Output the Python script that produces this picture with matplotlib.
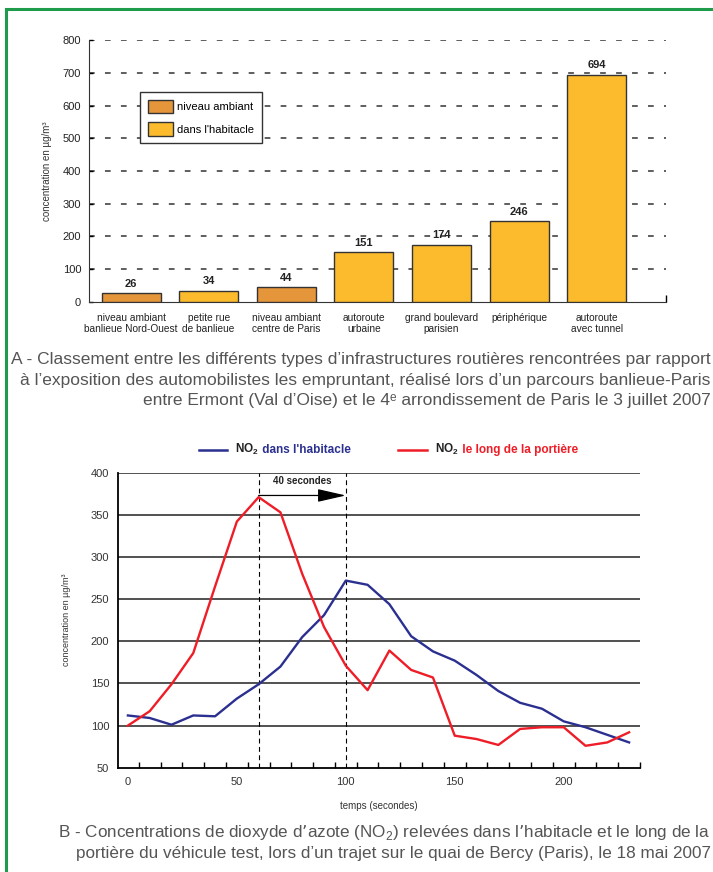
import matplotlib
matplotlib.use('Agg')
import matplotlib.pyplot as plt
from matplotlib import font_manager
from matplotlib.patches import Patch, Rectangle
from matplotlib.lines import Line2D

# --- data ---------------------------------------------------------------
categories = ['niveau ambiant\nbanlieue Nord-Ouest', 'petite rue\nde banlieue',
              'niveau ambiant\ncentre de Paris', 'autoroute\nurbaine',
              'grand boulevard\nparisien', 'périphérique', 'autoroute\navec tunnel']
concentrations = [26, 34, 44, 151, 174, 246, 694]
is_ambient = [True, False, True, False, False, False, False]

temps = [0, 10, 20, 30, 40, 50, 60, 70, 80, 90, 100, 110, 120, 130, 140, 150,
         160, 170, 180, 190, 200, 210, 220, 230]
no2_habitacle = [112, 109, 101, 112, 111, 132, 149, 170, 205, 231, 272, 267,
                 244, 206, 188, 177, 160, 141, 127, 120, 105, 98, 89, 80]
no2_portiere = [100, 117, 149, 186, 265, 342, 371, 353, 280, 217, 171, 142,
                189, 166, 157, 88, 84, 77, 96, 98, 98, 76, 80, 92]

# --- style --------------------------------------------------------------
plt.rcParams['font.family'] = ['Liberation Sans', 'DejaVu Sans']
plt.rcParams['lines.scale_dashes'] = False

installed = {f.name for f in font_manager.fontManager.ttflist}
narrow = 'Liberation Sans Narrow' if 'Liberation Sans Narrow' in installed else 'Liberation Sans'
caption_font = [narrow, 'DejaVu Sans']

ORANGE = '#E5953A'
YELLOW = '#FCBB2D'
BLUE = '#2B3090'
RED = '#EE1D27'
GREEN = '#1E9B4B'
CAPTION = '#555555'

fig = plt.figure(figsize=(7.13, 8.72), dpi=100)

# green frame around the page
fig.add_artist(Rectangle((5.5 / 713, -0.05), 1.2, 1.05 - 9.5 / 872,
                         transform=fig.transFigure, fill=False,
                         edgecolor=GREEN, lw=2.2))

# --- chart A : bars -----------------------------------------------------
ax1 = fig.add_axes([0.1255, 0.654, 0.8086, 0.300])
colors = [ORANGE if a else YELLOW for a in is_ambient]
x = range(len(categories))
bars = ax1.bar(x, concentrations, width=0.76, color=colors,
               edgecolor='#333333', linewidth=1.0, zorder=3)
for b, v in zip(bars, concentrations):
    ax1.text(b.get_x() + b.get_width() / 2, v + 14, str(v), ha='center',
             va='bottom', fontsize=8, fontweight='bold', color='#222222', zorder=4)

ax1.set_xlim(-0.535, 6.89)
ax1.set_ylim(0, 800)
ax1.set_yticks(range(0, 801, 100))
for yv in range(100, 801, 100):
    ax1.axhline(yv, color='#333333', lw=1.1, linestyle=(0, (4.1, 7.4)), zorder=1)
ax1.set_xticks(list(x))
ax1.set_xticklabels(categories, fontsize=7.3, linespacing=1.2, color='#222222')
ax1.set_xticks([6.89], minor=True)
ax1.tick_params(axis='x', which='major', length=0, pad=8)
ax1.tick_params(axis='x', which='minor', direction='in', length=5, width=1)
ax1.tick_params(axis='y', direction='in', length=3, width=1, labelsize=8,
                pad=6, labelcolor='#222222')
ax1.spines[['top', 'right']].set_visible(False)
ax1.spines['left'].set_color('#333333')
ax1.spines['bottom'].set_color('#333333')
ax1.set_ylabel('concentration en µg/m³', fontsize=7, labelpad=8, color='#333333')

ax1.legend(handles=[Patch(facecolor=ORANGE, edgecolor='#333333', lw=1, label='niveau ambiant'),
                    Patch(facecolor=YELLOW, edgecolor='#333333', lw=1, label="dans l'habitacle")],
           loc='upper left', bbox_to_anchor=(0.0876, 0.802), borderaxespad=0,
           fontsize=8, fancybox=False, framealpha=1, edgecolor='#333333',
           handlelength=2.25, handleheight=1.5, handletextpad=0.4,
           labelspacing=0.8, borderpad=0.7)

fig.text(0.997, 1 - 380 / 872,
         "A - Classement entre les différents types d’infrastructures routières rencontrées par rapport\n"
         "à l’exposition des automobilistes les empruntant, réalisé lors d’un parcours banlieue-Paris\n"
         "entre Ermont (Val d’Oise) et le 4ᵉ arrondissement de Paris le 3 juillet 2007",
         ha='right', va='center', multialignment='right', fontsize=12.5,
         family=caption_font, color=CAPTION, linespacing=1.45)

# --- chart B : NO2 time series -----------------------------------------
ax2 = fig.add_axes([0.165, 0.1196, 0.7326, 0.3383])
ax2.plot(temps, no2_habitacle, color=BLUE, lw=1.7, zorder=4)
ax2.plot(temps, no2_portiere, color=RED, lw=1.7, zorder=4)
ax2.set_xlim(-4.7, 234.5)
ax2.set_ylim(50, 400)
for yv in range(100, 401, 50):
    ax2.axhline(yv, color='#333333', lw=1.2, zorder=1)
for xv in (60, 100):
    ax2.axvline(xv, color='black', lw=0.8, linestyle=(0, (3.5, 2.5)), zorder=2)

ax2.annotate('', xy=(100, 373), xytext=(60, 373),
             arrowprops=dict(arrowstyle='-|>,head_length=1.75,head_width=0.4',
                             mutation_scale=10, color='black', lw=0.9,
                             shrinkA=0, shrinkB=0), zorder=5)
ax2.text(80, 390, '40 secondes', ha='center', va='center', fontsize=7,
         fontweight='bold', color='#222222')

ax2.set_xticks(range(0, 201, 50))
ax2.set_xticks(range(5, 236, 10), minor=True)
ax2.tick_params(axis='x', which='major', length=0, pad=7, labelsize=8,
                labelcolor='#333333')
ax2.tick_params(axis='x', which='minor', direction='in', length=4.5, width=1)
ax2.set_yticks(range(50, 401, 50))
ax2.tick_params(axis='y', length=0, pad=6, labelsize=8, labelcolor='#333333')
ax2.spines[['top', 'right']].set_visible(False)
ax2.spines['left'].set_linewidth(1.3)
ax2.spines['bottom'].set_linewidth(1.3)
ax2.set_xlabel('temps (secondes)', fontsize=7, labelpad=10, color='#333333')
ax2.set_ylabel('concentration en µg/m³', fontsize=6.5, labelpad=14, color='#333333')

# legend drawn by hand: black "NO2" followed by coloured text
leg_y = 1 - 453 / 872
for x0, x1, col, label in ((198.6, 227, BLUE, " dans l'habitacle"),
                           (398, 427, RED, ' le long de la portière')):
    fig.add_artist(Line2D([x0 / 713, x1 / 713], [leg_y + 0.004] * 2, color=col,
                          lw=1.8, transform=fig.transFigure))
    t = fig.text((x1 + 8) / 713, leg_y, 'NO$_\\mathregular{2}$', ha='left',
                 va='baseline', fontsize=8.5, fontweight='bold', color='#222222')
    fig.canvas.draw()
    bb = t.get_window_extent()
    fig.text(bb.x1 / fig.bbox.width, leg_y, label, ha='left',
             va='baseline', fontsize=8.5, fontweight='bold', color=col)

fig.text(0.997, 1 - 842 / 872,
         "B - Concentrations de dioxyde d’azote (NO$_\\mathregular{2}$) relevées dans l’habitacle et le long de la\n"
         "portière du véhicule test, lors d’un trajet sur le quai de Bercy (Paris), le 18 mai 2007",
         ha='right', va='center', multialignment='right', fontsize=12.3,
         family=caption_font, color=CAPTION, linespacing=1.3)

fig.savefig('out.png', dpi=100)
